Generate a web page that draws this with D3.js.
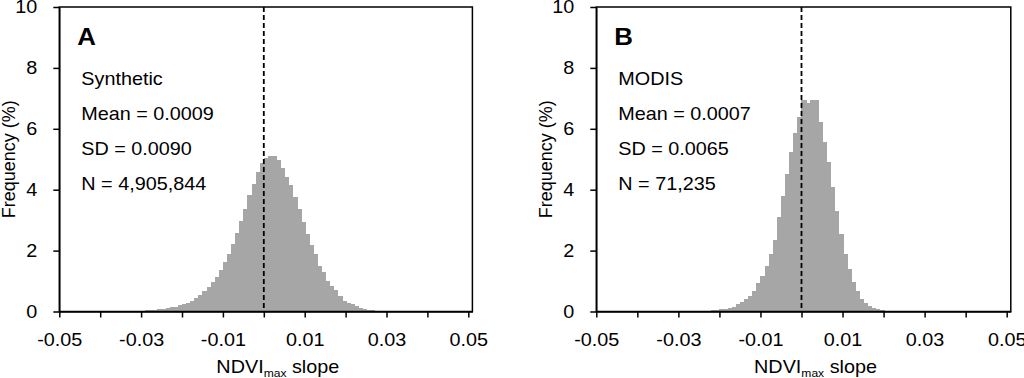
<!DOCTYPE html>
<html>
<head>
<meta charset="utf-8">
<script src="https://cdn.jsdelivr.net/npm/d3@7"></script>
<style>
  body { margin: 0; background: #fff; }
  svg { display: block; }
</style>
</head>
<body>
<script>
// histogram bins are 0.001 wide, frequencies in %
var binWidth = 0.001;

var startA = -0.032;
var freqA = [0.01, 0.015, 0.03, 0.04, 0.05, 0.06, 0.08, 0.09, 0.12, 0.14,
             0.16, 0.20, 0.23, 0.29, 0.36, 0.44, 0.53, 0.66, 0.82, 0.96,
             1.13, 1.35, 1.62, 1.90, 2.23, 2.59, 2.96, 3.38, 3.81, 4.20,
             4.57, 4.88, 5.03, 5.12, 5.10, 4.96, 4.70, 4.41, 4.14, 3.75,
             3.38, 2.93, 2.56, 2.17, 1.90, 1.50, 1.29, 1.00, 0.83, 0.69,
             0.52, 0.36, 0.29, 0.23, 0.17, 0.11, 0.07, 0.05, 0.04, 0.03,
             0.02, 0.01];

var startB = -0.024;
var freqB = [0.01, 0.03, 0.04, 0.06, 0.07, 0.09, 0.12, 0.16, 0.23, 0.30,
             0.40, 0.52, 0.68, 0.92, 1.15, 1.50, 1.90, 2.35, 3.10, 3.80,
             4.50, 5.25, 5.85, 6.40, 6.93, 6.85, 6.95, 6.95, 6.22, 5.56,
             4.90, 4.10, 3.30, 2.55, 1.90, 1.40, 0.98, 0.67, 0.42, 0.27,
             0.17, 0.11, 0.07, 0.04, 0.02];

var xTicks = [-0.05, -0.04, -0.03, -0.02, -0.01, 0, 0.01, 0.02, 0.03, 0.04, 0.05];
var xTickLabels = ["-0.05", "", "-0.03", "", "-0.01", "", "0.01", "", "0.03", "", "0.05"];
var yTicks = [0, 2, 4, 6, 8, 10];

var statsA = ["Synthetic", "Mean = 0.0009", "SD = 0.0090", "N = 4,905,844"];
var statsB = ["MODIS", "Mean = 0.0007", "SD = 0.0065", "N = 71,235"];

var font = "'Liberation Sans', Arial, sans-serif";
var stretch = "scale(1.1,1)";

var svg = d3.select("body").append("svg")
    .attr("width", 1024)
    .attr("height", 378);

function drawPanel(p) {
  var x = d3.scaleLinear()
      .domain([-0.05, 0.051])
      .range([p.left, p.right]);

  var y = d3.scaleLinear()
      .domain([0, 10])
      .range([311.5, 7]);

  var g = svg.append("g");

  g.selectAll("rect.bar")
      .data(p.freq)
    .enter().append("rect")
      .attr("class", "bar")
      .attr("x", function(d, i) { return x(p.start + i * binWidth); })
      .attr("width", function(d, i) {
        return x(p.start + (i + 1) * binWidth) - x(p.start + i * binWidth) + 1;
      })
      .attr("y", function(d) { return y(d); })
      .attr("height", function(d) { return y(0) - y(d); })
      .attr("fill", "#a6a6a6")
      .attr("shape-rendering", "crispEdges");

  // dashed line at zero slope
  g.append("line")
      .attr("x1", x(0)).attr("x2", x(0))
      .attr("y1", y(10)).attr("y2", y(0))
      .attr("stroke", "#000")
      .attr("stroke-width", 1.8)
      .attr("stroke-dasharray", "5,3");

  // frame
  g.append("rect")
      .attr("x", x.range()[0])
      .attr("y", y(10))
      .attr("width", x.range()[1] - x.range()[0])
      .attr("height", y(0) - y(10))
      .attr("fill", "none")
      .attr("stroke", "#000")
      .attr("stroke-width", 1.5);

  var xAxis = d3.axisBottom(x)
      .tickValues(xTicks)
      .tickSize(6)
      .tickSizeOuter(0)
      .tickPadding(16)
      .tickFormat(function(d, i) { return xTickLabels[i]; });

  var yAxis = d3.axisLeft(y)
      .tickValues(yTicks)
      .tickSize(6)
      .tickSizeOuter(0)
      .tickPadding(14);

  var gx = g.append("g")
      .attr("transform", "translate(0," + y(0) + ")")
      .call(xAxis);

  var gy = g.append("g")
      .attr("transform", "translate(" + x.range()[0] + ",0)")
      .call(yAxis);

  [gx, gy].forEach(function(ax) {
    ax.attr("font-family", font).attr("font-size", 18).attr("color", "#000");
    ax.selectAll("path, line").attr("stroke-width", 1.5);
    ax.selectAll(".tick text").attr("transform", stretch);
  });

  // axis titles
  var xt = g.append("text")
      .attr("transform", "translate(" + (x(0) + 14) + ",372.5) " + stretch)
      .attr("text-anchor", "middle")
      .attr("font-family", font)
      .attr("font-size", 18);
  xt.append("tspan").text("NDVI");
  xt.append("tspan").attr("font-size", 11).attr("dy", 4).text("max");
  xt.append("tspan").attr("dy", -4).text(" slope");

  g.append("text")
      .attr("transform", "translate(" + (x.range()[0] - 44.3) + "," + ((y(0) + y(10)) / 2) + ") rotate(-90)")
      .attr("text-anchor", "middle")
      .attr("font-family", font)
      .attr("font-size", 18)
      .text("Frequency (%)");

  // panel letter and summary stats
  g.append("text")
      .attr("transform", "translate(" + (x.range()[0] + 18) + ",45) " + stretch)
      .attr("font-family", font)
      .attr("font-size", 23.5)
      .attr("font-weight", "bold")
      .text(p.letter);

  g.selectAll("text.stat")
      .data(p.stats)
    .enter().append("text")
      .attr("class", "stat")
      .attr("transform", function(d, i) {
        return "translate(" + (x.range()[0] + 22) + "," + (85 + i * 35) + ") " + stretch;
      })
      .attr("font-family", font)
      .attr("font-size", 18)
      .text(function(d) { return d; });
}

drawPanel({ left: 59.3, right: 472.4, start: startA, freq: freqA, stats: statsA, letter: "A" });
drawPanel({ left: 596.3, right: 1010.8, start: startB, freq: freqB, stats: statsB, letter: "B" });
</script>
</body>
</html>
